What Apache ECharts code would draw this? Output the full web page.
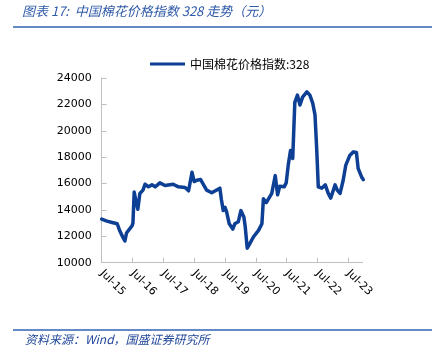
<!DOCTYPE html>
<html><head><meta charset="utf-8">
<script src="https://cdn.jsdelivr.net/npm/echarts@6/dist/echarts.min.js"></script>
<style>html,body{margin:0;padding:0;background:#fff;}#c{width:441px;height:359px;}</style>
</head><body><div id="c"></div>
<script>
var titleText = '图表 17:  中国棉花价格指数 328 走势（元）';
var sourceText = '资料来源：Wind，国盛证券研究所';
var seriesName = '中国棉花价格指数:328';
var xTickLabels = ['Jul-15','Jul-16','Jul-17','Jul-18','Jul-19','Jul-20','Jul-21','Jul-22','Jul-23'];
var yTicks = [10000,12000,14000,16000,18000,20000,22000,24000];
var dates = [
'2015-07-01','2015-09-01','2015-11-01','2016-01-01','2016-02-01','2016-03-10','2016-04-01','2016-04-20','2016-06-01','2016-06-25',
'2016-07-05','2016-07-20','2016-08-10','2016-09-01','2016-09-25','2016-11-01','2016-11-25','2017-01-05','2017-02-15','2017-03-25',
'2017-05-20','2017-07-20','2017-10-25','2017-12-25','2018-03-15','2018-04-25','2018-05-15','2018-06-05','2018-07-01','2018-08-01',
'2018-09-15','2018-11-25','2019-01-25','2019-05-01','2019-05-20','2019-06-10','2019-07-01','2019-07-20','2019-08-20','2019-10-01',
'2019-10-25','2019-12-05','2020-01-05','2020-02-10','2020-02-25','2020-03-20','2020-04-20','2020-06-01','2020-08-01','2020-09-10',
'2020-09-28','2020-11-01','2021-01-05','2021-02-15','2021-03-15','2021-04-10','2021-06-01','2021-06-25','2021-07-20','2021-08-15',
'2021-09-10','2021-10-05','2021-11-05','2021-12-05','2022-01-05','2022-02-25','2022-04-01','2022-05-05','2022-06-01','2022-06-20',
'2022-07-10','2022-08-20','2022-10-01','2022-11-05','2022-12-05','2023-01-25','2023-02-20','2023-03-25','2023-05-01','2023-06-01',
'2023-07-20','2023-08-30','2023-10-05','2023-10-25','2023-12-05','2023-12-25'
];
var values = [
13300,13150,13050,12950,12400,11900,11650,12250,12600,12800,
13000,15350,14650,14050,15250,15500,15950,15750,15900,15750,
16050,15850,15950,15750,15700,15450,15500,16850,16150,16250,
16300,15500,15300,15650,14750,13950,14200,13850,12950,12550,
12950,13100,13950,13450,12750,11100,11450,11950,12450,12950,
14850,14550,15250,16600,15150,15800,15750,16050,17450,18500,
17900,22150,22700,21950,22550,22950,22700,22100,21200,18800,
15750,15650,15900,15250,14900,15900,15500,15250,16250,17400,
18150,18400,18350,17150,16500,16300
];
var startMs = Date.UTC(2015,6,1);
function toYears(d){var p=d.split('-');return (Date.UTC(+p[0],+p[1]-1,+p[2])-startMs)/(365.25*864e5);}
var data = dates.map(function(d,i){return [toYears(d), values[i]];});
var xTickVals = xTickLabels.map(function(l,i){return i;});

var chart = echarts.init(document.getElementById('c'), null, {renderer:'canvas'});
chart.setOption({
  animation:false,
  backgroundColor:'#fff',
  graphic:[
    {type:'text', left:22, top:5, style:{text:titleText, font:'italic 13px "Noto Sans CJK SC"', fill:'#2f5aa8'}},
    {type:'line', shape:{x1:13,y1:27,x2:432,y2:27}, style:{stroke:'#2f62b3', lineWidth:1.5}},
    {type:'line', shape:{x1:13,y1:330,x2:432,y2:330}, style:{stroke:'#2f62b3', lineWidth:1.5}},
    {type:'text', left:25, top:333, style:{text:sourceText, font:'italic 12px "Noto Sans CJK SC"', fill:'#23489a'}}
  ],
  legend:{
    top:53, left:145, itemWidth:35, itemHeight:3, itemGap:10,
    icon:'rect',
    textStyle:{fontFamily:'"Noto Sans CJK SC"', fontSize:12, color:'#000'},
    data:[{name:seriesName}]
  },
  grid:{left:101.7, right:78.3, top:78, bottom:96.3, containLabel:false},
  xAxis:{
    type:'value', min:0, max:8.466,
    axisLine:{lineStyle:{color:'#bfbfbf', width:1}},
    axisTick:{show:true, inside:true, length:5, lineStyle:{color:'#bfbfbf'}, customValues:xTickVals},
    axisLabel:{rotate:-45, margin:9, fontFamily:'DejaVu Sans', fontSize:11, color:'#000',
      customValues:xTickVals,
      formatter:function(v){var i=Math.round(v);return xTickLabels[i]||'';}},
    splitLine:{show:false}
  },
  yAxis:{
    type:'value', min:yTicks[0], max:yTicks[yTicks.length-1], interval:2000,
    axisLine:{show:true, lineStyle:{color:'#bfbfbf', width:1}},
    axisTick:{show:true, inside:true, length:5, lineStyle:{color:'#bfbfbf'}},
    axisLabel:{margin:10, fontFamily:'DejaVu Sans', fontSize:11, color:'#000',
      formatter:function(v){return String(v);}},
    splitLine:{show:false}
  },
  series:[{
    name:seriesName, type:'line', data:data, showSymbol:false, symbol:'none',
    lineStyle:{color:'#0d3f94', width:3.5, join:'round', cap:'round'},
    itemStyle:{color:'#0d3f94'}
  }]
});
</script></body></html>
